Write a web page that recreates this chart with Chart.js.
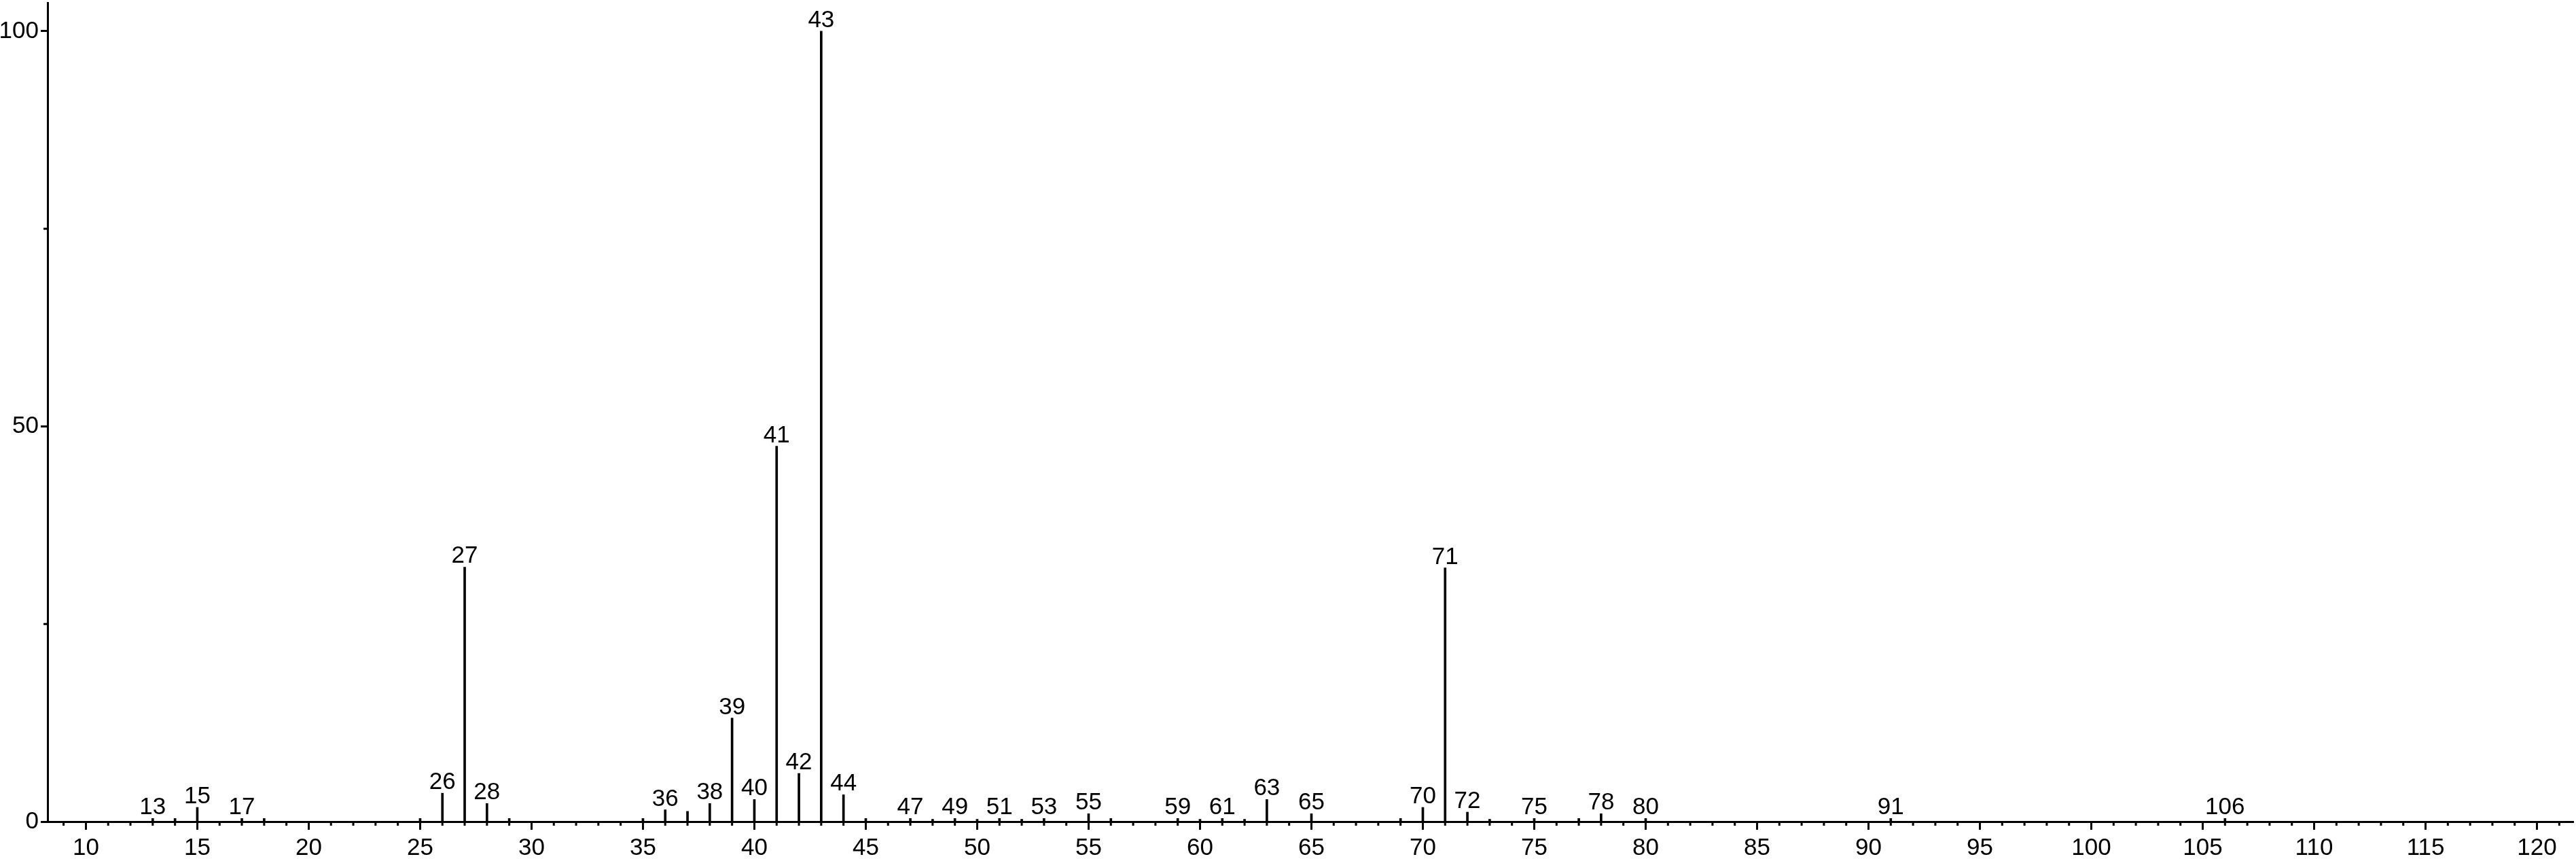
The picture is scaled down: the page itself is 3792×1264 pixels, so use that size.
<!DOCTYPE html>
<html><head><meta charset="utf-8">
<script src="https://cdn.jsdelivr.net/npm/chart.js@4.4.0/dist/chart.umd.min.js"></script>
<style>html,body{margin:0;padding:0;background:#fff;overflow:hidden;} canvas{display:block;}</style>
</head><body>
<canvas id="c" width="3792" height="1264" style="width:3792px;height:1264px"></canvas>
<script>
// m/z values and relative intensities (%)
const mzValues    = [13, 14, 15, 17, 18, 25, 26, 27, 28, 29, 35, 36, 37, 38, 39, 40, 41, 42, 43, 44, 45,
                     47, 48, 49, 50, 51, 52, 53, 55, 56, 59, 60, 61, 62, 63, 65, 69, 70, 71, 72, 73, 75, 77, 78, 80, 91, 106];
const intensities = [0.4, 0.4, 1.8, 0.4, 0.4, 0.4, 3.6, 32.2, 2.3, 0.4, 0.4, 1.5, 1.3, 2.3, 13.1, 2.8, 47.5, 6.1, 100, 3.4, 0.4,
                     0.4, 0.3, 0.4, 0.3, 0.4, 0.3, 0.4, 1.0, 0.4, 0.4, 0.3, 0.4, 0.3, 2.8, 1.0, 0.4, 1.8, 32.1, 1.2, 0.3, 0.4, 0.4, 1.0, 0.4, 0.4, 0.4];
const labeledPeaks = [13, 15, 17, 26, 27, 28, 36, 38, 39, 40, 41, 42, 43, 44, 47, 49, 51, 53, 55, 59, 61, 63, 65,
                      70, 71, 72, 75, 78, 80, 91, 106];
const xTickValues = [10, 15, 20, 25, 30, 35, 40, 45, 50, 55, 60, 65, 70, 75, 80, 85, 90, 95, 100, 105, 110, 115, 120];
const xMinorStep = 1;
const yTickValues = [0, 50, 100];
const yMinorTicks = [25, 75];

const FONT = '"Liberation Sans", Arial, Helvetica, sans-serif';

const annotPlugin = {
  id: 'annot',
  afterDraw(chart) {
    const ctx = chart.ctx, xs = chart.scales.x, ys = chart.scales.y, ca = chart.chartArea;
    ctx.save();
    ctx.strokeStyle = '#000';
    ctx.fillStyle = '#000';
    ctx.lineWidth = 3;
    ctx.lineCap = 'butt';
    // minor x ticks
    for (let m = Math.ceil(xs.min); m <= xs.max; m += xMinorStep) {
      if (xTickValues.includes(m)) continue;
      const px = xs.getPixelForValue(m);
      ctx.beginPath(); ctx.moveTo(px, ca.bottom); ctx.lineTo(px, ca.bottom + 6); ctx.stroke();
    }
    // minor y ticks
    yMinorTicks.forEach(v => {
      const py = ys.getPixelForValue(v);
      ctx.beginPath(); ctx.moveTo(ca.left, py); ctx.lineTo(ca.left - 6, py); ctx.stroke();
    });
    // peak labels
    ctx.font = '35px ' + FONT;
    ctx.textAlign = 'center';
    ctx.textBaseline = 'alphabetic';
    labeledPeaks.forEach(m => {
      const i = mzValues.indexOf(m);
      if (i < 0) return;
      const px = xs.getPixelForValue(m);
      const py = ys.getPixelForValue(intensities[i]);
      ctx.fillText(String(m), px, py - 6);
    });
    ctx.restore();
  }
};

new Chart(document.getElementById('c'), {
  type: 'bar',
  data: {
    datasets: [{
      data: mzValues.map((m, i) => ({ x: m, y: intensities[i] })),
      backgroundColor: '#000',
      borderWidth: 0,
      barThickness: 3
    }]
  },
  options: {
    responsive: false,
    animation: false,
    devicePixelRatio: 1,
    layout: { padding: { left: 0, right: 4, top: 4, bottom: 0 } },
    plugins: { legend: { display: false }, tooltip: { enabled: false } },
    scales: {
      x: {
        type: 'linear',
        offset: false,
        min: 8.28,
        max: 121.63,
        afterFit(s) { s.height = 55; s.paddingLeft = 0; s.paddingRight = 0; },
        afterBuildTicks(s) { s.ticks = xTickValues.map(v => ({ value: v })); },
        border: { display: true, color: '#000', width: 3 },
        grid: { display: true, offset: false, drawOnChartArea: false, drawTicks: true, tickLength: 12, tickWidth: 3, tickColor: '#000' },
        ticks: { color: '#000', font: { family: FONT, size: 35 }, padding: 6, maxRotation: 0, autoSkip: false }
      },
      y: {
        type: 'linear',
        min: 0,
        max: 103.6,
        afterFit(s) { s.width = 70; s.paddingTop = 0; s.paddingBottom = 0; },
        afterBuildTicks(s) { s.ticks = yTickValues.map(v => ({ value: v })); },
        border: { display: true, color: '#000', width: 3 },
        grid: { display: true, drawOnChartArea: false, drawTicks: true, tickLength: 10, tickWidth: 3, tickColor: '#000' },
        ticks: { color: '#000', font: { family: FONT, size: 35 }, padding: 3 }
      }
    }
  },
  plugins: [annotPlugin]
});
</script>
</body></html>
